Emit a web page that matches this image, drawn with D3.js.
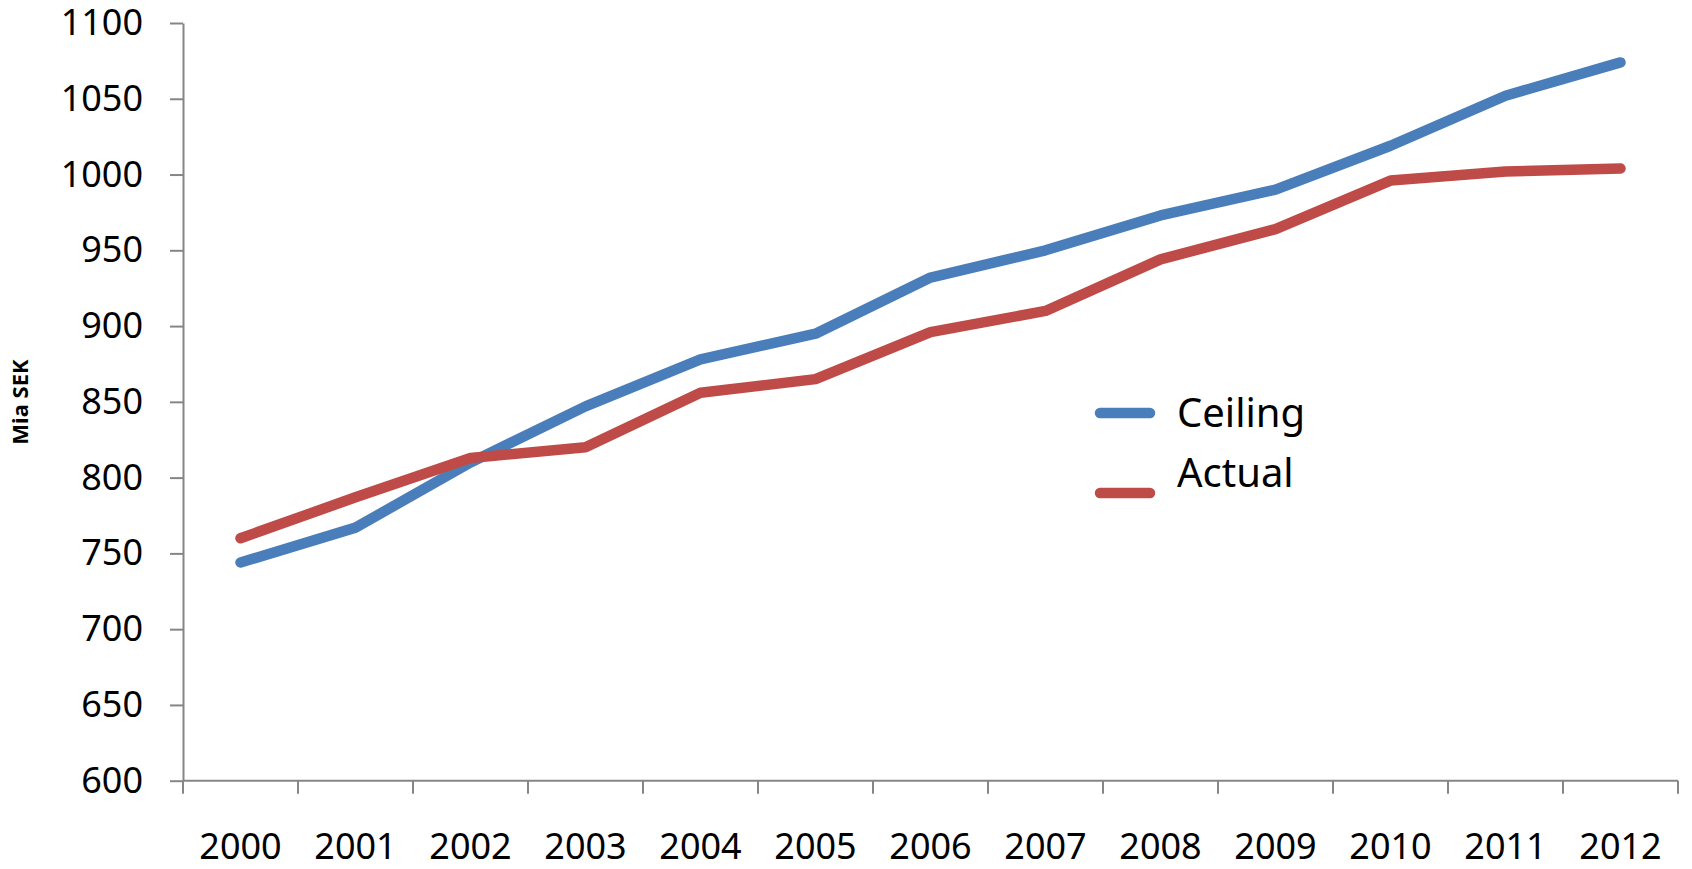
<!DOCTYPE html>
<html>
<head>
<meta charset="utf-8">
<script src="https://cdn.jsdelivr.net/npm/d3@7"></script>
<style>
  html, body { margin: 0; padding: 0; background: #fff; }
  svg { display: block; font-family: "Noto Sans", "Open Sans", sans-serif; }
</style>
</head>
<body>
<svg id="chart" width="1692" height="869"></svg>
<script>
// Expenditure ceiling vs. actual expenditure, billions of SEK
const years = ["2000", "2001", "2002", "2003", "2004", "2005", "2006",
               "2007", "2008", "2009", "2010", "2011", "2012"];
const ceiling = [744, 767, 810, 847, 878, 895, 932, 950, 973, 990, 1019, 1052, 1074];
const actual  = [760, 787, 813, 820, 856, 865, 896, 910, 944, 964, 996, 1002, 1004];
const yTicks = [600, 650, 700, 750, 800, 850, 900, 950, 1000, 1050, 1100];
const seriesNames = ["Ceiling", "Actual"];
const seriesColors = ["#4A7EBB", "#BE4B48"];
const yLabel = "Mia SEK";

const svg = d3.select("#chart");
const plotLeft = 183, plotRight = 1678, plotTop = 23, plotBottom = 780.7;
const axisColor = "#868686";

const x = d3.scaleBand().domain(years).range([plotLeft, plotRight]).padding(0);
const y = d3.scaleLinear().domain([600, 1100]).range([plotBottom, plotTop]);

// Y axis
const yAxis = svg.append("g")
  .attr("transform", `translate(${plotLeft},0)`)
  .call(d3.axisLeft(y).tickValues(yTicks).tickFormat(d3.format("d"))
    .tickSize(13).tickSizeOuter(0).tickPadding(27));
yAxis.select(".domain").attr("stroke", axisColor).attr("stroke-width", 2);
yAxis.selectAll(".tick line").attr("stroke", axisColor).attr("stroke-width", 2);
yAxis.selectAll(".tick text").attr("font-size", 36).attr("fill", "#000")
  .attr("font-family", "'Noto Sans', sans-serif");

// X axis: line, ticks on category boundaries, labels centred in each category
const xg = svg.append("g").attr("transform", `translate(0,${plotBottom})`);
xg.append("line").attr("x1", plotLeft).attr("x2", plotRight).attr("y1", 0).attr("y2", 0)
  .attr("stroke", axisColor).attr("stroke-width", 2);
const edges = years.map(d => x(d)).concat([x(years[years.length - 1]) + x.bandwidth()]);
xg.selectAll("line.edge").data(edges).join("line").attr("class", "edge")
  .attr("x1", d => d).attr("x2", d => d).attr("y1", 0).attr("y2", 13)
  .attr("stroke", axisColor).attr("stroke-width", 2);

const xLabels = svg.append("g")
  .attr("transform", `translate(0,${plotBottom})`)
  .call(d3.axisBottom(x).tickSize(0).tickPadding(53));
xLabels.select(".domain").remove();
xLabels.selectAll(".tick text").attr("font-size", 36).attr("fill", "#000")
  .attr("font-family", "'Noto Sans', sans-serif");

// Y axis title
svg.append("text")
  .attr("transform", "translate(28,402) rotate(-90)")
  .attr("text-anchor", "middle")
  .attr("font-size", 22).attr("font-weight", "bold").attr("fill", "#000")
  .text(yLabel);

// Lines
const line = d3.line()
  .x((d, i) => x(years[i]) + x.bandwidth() / 2)
  .y(d => y(d));
[ceiling, actual].forEach((vals, k) => {
  svg.append("path").datum(vals)
    .attr("d", line)
    .attr("fill", "none")
    .attr("stroke", seriesColors[k])
    .attr("stroke-width", 10.5)
    .attr("stroke-linecap", "round")
    .attr("stroke-linejoin", "round");
});

// Legend
const legendLineY = [413, 493];
const legendTextY = [427, 487];
seriesNames.forEach((name, k) => {
  svg.append("line")
    .attr("x1", 1100).attr("x2", 1150)
    .attr("y1", legendLineY[k]).attr("y2", legendLineY[k])
    .attr("stroke", seriesColors[k]).attr("stroke-width", 10.5)
    .attr("stroke-linecap", "round");
  svg.append("text")
    .attr("x", 1177).attr("y", legendTextY[k])
    .attr("font-size", 40).attr("fill", "#000")
    .text(name);
});
</script>
</body>
</html>
